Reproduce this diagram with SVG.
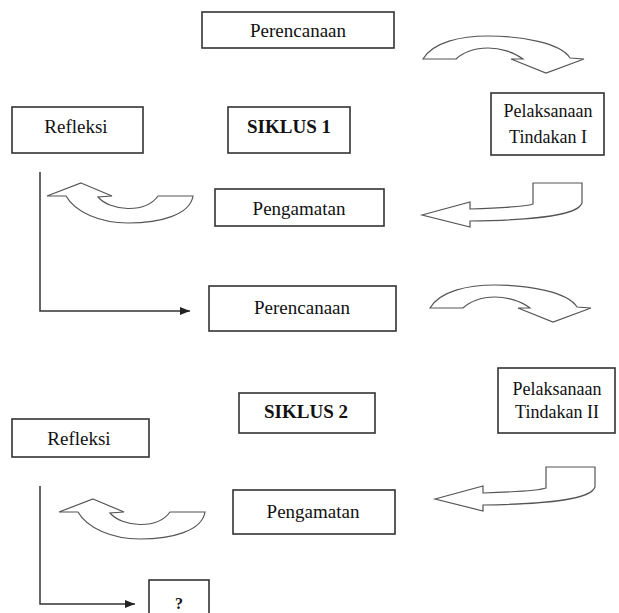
<svg xmlns="http://www.w3.org/2000/svg" width="619" height="613" viewBox="0 0 619 613">
<defs>
<style>
.box{fill:#fff;stroke:#333;stroke-width:1.6}
.t{font-family:"Liberation Serif","Times New Roman",serif;font-size:19px;fill:#111;text-anchor:middle}
.s{font-size:18px}
.b{font-weight:bold}
.blk{fill:#fff;stroke:#555;stroke-width:1.2;stroke-linejoin:miter}
.ln{fill:none;stroke:#333;stroke-width:1.5}
</style>
<marker id="ah" markerWidth="10" markerHeight="8" refX="10" refY="4" orient="auto" markerUnits="userSpaceOnUse">
<path d="M0,0 L10,4 L0,8 Z" fill="#222"/>
</marker>
<path id="cdown" d="M430,308 C440,291 468,285 495,285 C528,285 568,292 577,307 L591,308 L553,322 L518,308 L530,308 C521,301 507,297 495,297 C481,297 469,302 463,308 Z"/>
<path id="uturn" d="M81,183 L112,196 L98,197 C110,211 145,214 158,196 L193,196 C190,215 160,223 128,223 C100,223 75,212 66,196 L47,196 Z"/>
<path id="larrow" d="M422,215 L470,202 L470,209 C500,208 525,207 533,204 L533,183 L582,183 L582,203 C578,215 540,220 470,221 L470,227 Z"/>
</defs>
<rect width="619" height="613" fill="#fff"/>

<g id="connectors">
<use href="#cdown" class="blk" transform="translate(-7,-249)"/>
<use href="#larrow" class="blk"/>
<use href="#uturn" class="blk"/>
<polyline class="ln" points="40,172 40,311 190,311" marker-end="url(#ah)"/>
<use href="#cdown" class="blk"/>
<use href="#larrow" class="blk" transform="translate(13,284)"/>
<use href="#uturn" class="blk" transform="translate(12,316)"/>
<polyline class="ln" points="40,486 40,604 135,604" marker-end="url(#ah)"/>
</g>

<g id="perencanaan1"><rect class="box" x="202" y="12" width="192" height="36"/><text class="t" x="298" y="37">Perencanaan</text></g>
<g id="pelaksanaan1"><rect class="box" x="491" y="93" width="113" height="62"/><text class="t s" x="548" y="117">Pelaksanaan</text><text class="t s" x="548" y="143">Tindakan I</text></g>
<g id="refleksi1"><rect class="box" x="12" y="107" width="131" height="46"/><text class="t" x="76" y="133">Refleksi</text></g>
<g id="siklus1"><rect class="box" x="228" y="107" width="122" height="46"/><text class="t b" x="289" y="133">SIKLUS 1</text></g>
<g id="pengamatan1"><rect class="box" x="215" y="189" width="169" height="37"/><text class="t" x="299" y="215">Pengamatan</text></g>
<g id="perencanaan2"><rect class="box" x="209" y="286" width="187" height="45"/><text class="t" x="302" y="314">Perencanaan</text></g>
<g id="pelaksanaan2"><rect class="box" x="498" y="368" width="117" height="65"/><text class="t s" x="557" y="395">Pelaksanaan</text><text class="t s" x="557" y="418">Tindakan II</text></g>
<g id="siklus2"><rect class="box" x="239" y="393" width="136" height="40"/><text class="t b" x="306" y="418">SIKLUS 2</text></g>
<g id="refleksi2"><rect class="box" x="12" y="419" width="137" height="38"/><text class="t" x="79" y="445">Refleksi</text></g>
<g id="pengamatan2"><rect class="box" x="233" y="490" width="162" height="44"/><text class="t" x="313" y="518">Pengamatan</text></g>
<g id="tanya"><rect class="box" x="149" y="580" width="60" height="40"/><text class="t b" x="179" y="609" style="font-size:16px">?</text></g>
</svg>
